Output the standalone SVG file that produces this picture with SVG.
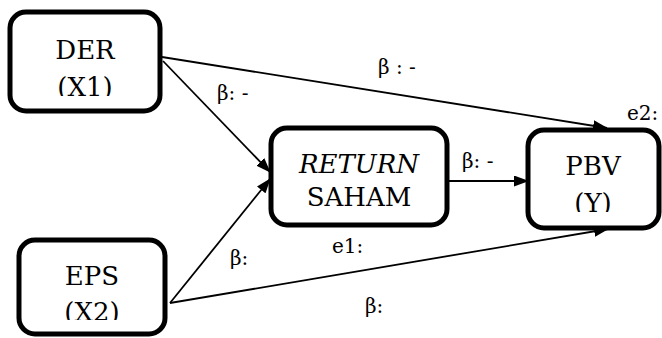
<svg xmlns="http://www.w3.org/2000/svg" width="662" height="338" viewBox="0 0 662 338">
<style>
.box{fill:#fff;stroke:#000;stroke-width:5}
.c{fill:none;stroke:#000;stroke-width:1.8}
</style>
<defs>
<marker id="ah" markerWidth="15" markerHeight="11" refX="14" refY="5.5" orient="auto" markerUnits="userSpaceOnUse">
<path d="M0,0 L15,5.5 L0,11 Z" fill="#000"/>
</marker>
<clipPath id="cDER"><rect x="10" y="12" width="150" height="84"/></clipPath>
<clipPath id="cEPS"><rect x="19" y="240" width="146" height="80"/></clipPath>
<clipPath id="cPBV"><rect x="528" y="130" width="131" height="82"/></clipPath>
</defs>
<rect width="662" height="338" fill="#fff"/>
<g id="connectors">
<line class="c" x1="162" y1="57" x2="607" y2="128" marker-end="url(#ah)"/>
<line class="c" x1="163" y1="61" x2="270" y2="172" marker-end="url(#ah)"/>
<line class="c" x1="170" y1="303" x2="270" y2="179" marker-end="url(#ah)"/>
<line class="c" x1="170" y1="303" x2="608" y2="229" marker-end="url(#ah)"/>
<line class="c" x1="447" y1="181" x2="528" y2="181" marker-end="url(#ah)"/>
<g font-family="DejaVu Serif, serif" font-size="20" fill="#000">
<text x="378" y="74">β : -</text>
<text x="217" y="100">β: -</text>
<text x="462" y="168">β: -</text>
<text x="627" y="120">e2:</text>
<text x="332" y="253">e1:</text>
<text x="230" y="265">β:</text>
<text x="365" y="313">β:</text>
</g>
</g>
<g font-family="DejaVu Serif, serif" font-size="26" fill="#000" text-anchor="middle">
<g id="der">
<rect class="box" x="10" y="12" width="150" height="99" rx="16"/>
<g clip-path="url(#cDER)">
<text x="85" y="59">DER</text>
<text x="85" y="96">(X1)</text>
</g>
</g>
<g id="eps">
<rect class="box" x="19" y="240" width="146" height="94" rx="16"/>
<g clip-path="url(#cEPS)">
<text x="92" y="285">EPS</text>
<text x="92" y="321">(X2)</text>
</g>
</g>
<g id="return">
<rect class="box" x="271" y="128" width="176" height="97" rx="16"/>
<text x="359" y="173" font-style="italic">RETURN</text>
<text x="359" y="206">SAHAM</text>
</g>
<g id="pbv">
<rect class="box" x="528" y="130" width="131" height="98" rx="16"/>
<g clip-path="url(#cPBV)">
<text x="593" y="175">PBV</text>
<text x="593" y="212">(Y)</text>
</g>
</g>
</g>
</svg>
